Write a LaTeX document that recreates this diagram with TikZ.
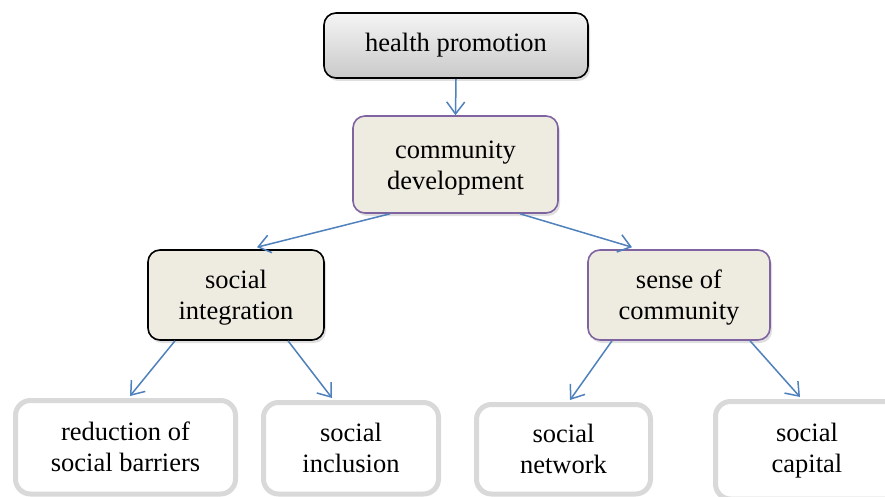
\documentclass[tikz,border=0pt]{standalone}
\usepackage{fontspec}
\setmainfont{Liberation Serif}
\usetikzlibrary{arrows.meta,shadows}
\definecolor{tanbg}{HTML}{EEECE1}
\definecolor{purp}{HTML}{8064A2}
\definecolor{arrblue}{HTML}{4F81BD}
\definecolor{boxgray}{HTML}{D9D9D9}
\begin{document}
\begin{tikzpicture}[x=1pt,y=1pt,
  every node/.style={font=\fontsize{26.5}{31}\selectfont, align=center, inner sep=0pt},
  topbox/.style={draw=black, line width=1.6pt, rounded corners=12pt,
    top color=gray!8, bottom color=gray!42,
    drop shadow={shadow xshift=2pt, shadow yshift=-3pt, opacity=0.25}},
  tanbox/.style={draw=#1, line width=1.6pt, rounded corners=12pt, fill=tanbg,
    text height=52.1pt, text depth=2.75pt,
    drop shadow={shadow xshift=2pt, shadow yshift=-3pt, opacity=0.25}},
  leafbox/.style={draw=boxgray, line width=5pt, rounded corners=15pt, fill=white},
  arr/.style={draw=arrblue, line width=1.5pt, -{Straight Barb[length=12pt,width=18pt,line width=1.5pt]}}
]
\useasboundingbox (0,0) rectangle (885,496);
\clip (0,0) rectangle (885,496);
\fill[white] (0,0) rectangle (885,496);

\node[topbox, minimum width=264pt, minimum height=65pt] (hp) at (456,450.5) {health promotion};
\node[tanbox=purp, minimum width=205pt, minimum height=97pt] (cd) at (455.5,331.5) {community\\development};
\node[tanbox=black, minimum width=176pt, minimum height=90pt] (si) at (236,201) {social\\integration};
\node[tanbox=purp, minimum width=182pt, minimum height=90pt] (sc) at (679,201) {sense of\\community};

\node[leafbox, minimum width=220pt, minimum height=93.5pt] (red) at (125.5,48.75) {reduction of\\social barriers};
\node[leafbox, minimum width=175pt, minimum height=91.5pt] (inc) at (351,47.75) {social\\inclusion};
\node[leafbox, minimum width=174pt, minimum height=89.5pt] (net) at (563.5,46.75) {social\\network};
\node[leafbox, minimum width=200pt, minimum height=97.5pt] (cap) at (815.5,45.75) {social\hspace*{17pt}\\capital\hspace*{17pt}};

\draw[arr] (hp.south) -- (cd.north);
\draw[arr] ([xshift=-65.5pt]cd.south) -- ([xshift=21pt,yshift=2pt]si.north);
\draw[arr] ([xshift=64.5pt]cd.south) -- ([xshift=-47pt,yshift=2pt]sc.north);
\draw[arr] ([xshift=-61pt]si.south) -- ([xshift=4.5pt,yshift=2pt]red.north);
\draw[arr] ([xshift=52pt]si.south) -- ([xshift=-19pt,yshift=2pt]inc.north);
\draw[arr] ([xshift=-67pt]sc.south) -- ([xshift=6.5pt,yshift=2pt]net.north);
\draw[arr] ([xshift=71pt]sc.south) -- ([xshift=-15.5pt,yshift=2pt]cap.north);
\end{tikzpicture}
\end{document}
